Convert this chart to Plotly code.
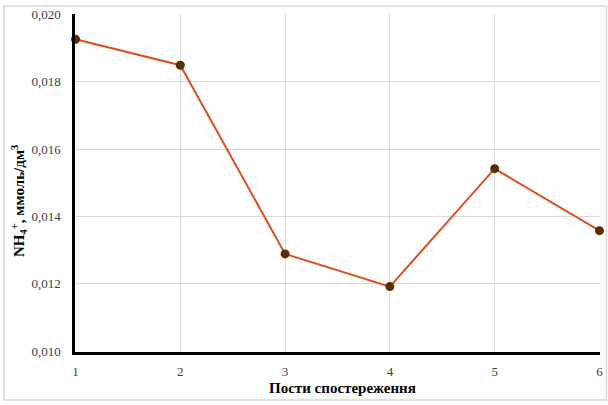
import plotly.graph_objects as go

posts = [1, 2, 3, 4, 5, 6]
nh4 = [0.01926, 0.01849, 0.01289, 0.01192, 0.01542, 0.01358]
y_ticks = [0.010, 0.012, 0.014, 0.016, 0.018, 0.020]
y_tick_labels = ["0,010", "0,012", "0,014", "0,016", "0,018", "0,020"]

fig = go.Figure()
fig.add_trace(go.Scatter(
    x=posts, y=nh4, mode="lines+markers",
    line=dict(color="#DC5020", width=2),
    marker=dict(color="#5A2D00", size=9),
    showlegend=False, cliponaxis=False,
))

L, R, T, B = 75, 8, 14, 53
W, H = 608, 405
pw, ph = W - L - R, H - T - B

def px(x):
    return (x - L) / pw

def py(y):
    return (H - B - y) / ph

fig.add_shape(type="rect", xref="paper", yref="paper",
              x0=px(4), x1=px(606.5), y0=py(400), y1=py(6),
              line=dict(color="#D9D9D9", width=1.5), layer="above")

font_family = "Liberation Serif, Times New Roman, serif"

fig.add_annotation(xref="paper", yref="paper", x=px(342), y=py(388),
                   text="<b>Пости спостереження</b>", showarrow=False,
                   xanchor="center", yanchor="middle",
                   font=dict(family=font_family, size=15, color="black"))
fig.add_annotation(xref="paper", yref="paper", x=px(19), y=py(201),
                   text="<b>NH<sub>4</sub><sup>+</sup>, ммоль/дм<sup>3</sup></b>", showarrow=False,
                   textangle=-90, xanchor="center", yanchor="middle",
                   font=dict(family=font_family, size=15, color="black"))

fig.update_layout(
    width=W, height=H,
    margin=dict(l=L, r=R, t=T, b=B, autoexpand=False),
    paper_bgcolor="white", plot_bgcolor="white",
    font=dict(family=font_family, size=12, color="#404040"),
    xaxis=dict(
        range=[0.995, 6.005], tickvals=posts, ticktext=[str(p) for p in posts],
        showgrid=True, gridcolor="#D9D9D9", gridwidth=1,
        showline=True, linecolor="black", linewidth=2.5,
        zeroline=False, ticks="", ticklen=0, ticklabelstandoff=6,
        tickfont=dict(family=font_family, size=13, color="#404040"),
    ),
    yaxis=dict(
        range=[0.00998, 0.02001], tickvals=y_ticks, ticktext=y_tick_labels,
        showgrid=True, gridcolor="#D9D9D9", gridwidth=1,
        showline=True, linecolor="black", linewidth=2.5,
        zeroline=False, ticks="", ticklen=0, ticklabelstandoff=9,
        tickfont=dict(family=font_family, size=13, color="#404040"),
    ),
)

fig.write_html("out.html", config={"displayModeBar": False},
               post_script="document.body.style.margin='0';")
